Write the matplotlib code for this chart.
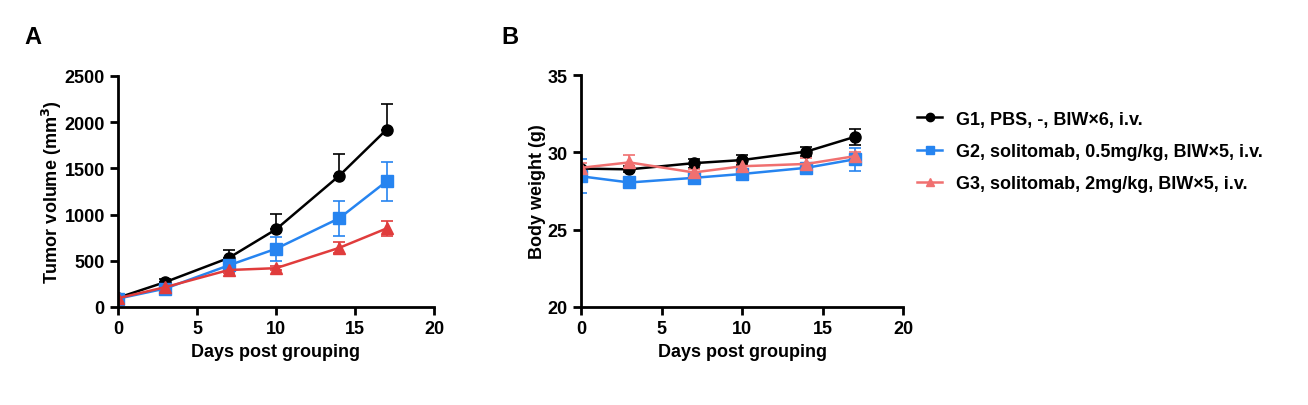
import numpy as np
import matplotlib.pyplot as plt
from matplotlib.lines import Line2D

plt.rcParams['font.family'] = ['Liberation Sans', 'DejaVu Sans']
plt.rcParams['font.weight'] = 'bold'

days = [0, 3, 7, 10, 14, 17]
groups = ["G1, PBS, -, BIW\u00d76, i.v.",
          "G2, solitomab, 0.5mg/kg, BIW\u00d75, i.v.",
          "G3, solitomab, 2mg/kg, BIW\u00d75, i.v."]

# tumor volume (mm3), mean and SEM
tv_g1 = [100, 270, 530, 840, 1420, 1920]
tv_g1_err = [15, 30, 90, 170, 240, 280]
tv_g2 = [90, 200, 450, 630, 960, 1360]
tv_g2_err = [10, 20, 50, 130, 190, 210]
tv_g3 = [95, 215, 400, 420, 640, 850]
tv_g3_err = [10, 20, 30, 20, 60, 80]

# body weight (g)
bw_g1 = [28.95, 28.9, 29.3, 29.5, 30.05, 31.0]
bw_g1_err = [0.1, 0.2, 0.3, 0.3, 0.3, 0.5]
bw_g2 = [28.45, 28.05, 28.35, 28.6, 29.0, 29.55]
bw_g2_err = [1.1, 0.1, 0.2, 0.2, 0.2, 0.75]
bw_g3 = [29.0, 29.35, 28.7, 29.1, 29.25, 29.75]
bw_g3_err = [0.3, 0.5, 0.2, 0.2, 0.4, 0.3]

fig = plt.figure(figsize=(13.08, 4.06), dpi=100)
axA = fig.add_axes([0.0902, 0.2414, 0.2416, 0.569])
axB = fig.add_axes([0.4442, 0.2414, 0.2462, 0.5714])

black = '#000000'
blue = '#2684F0'
redA = '#E03C3C'
redB = '#F07070'
markers = ['o', 's', '^']

def draw(ax, ys, errs, colors, upper_only):
    for y, e, c, m, up in zip(ys, errs, colors, markers, upper_only):
        if up:
            yerr = [np.zeros(len(e)), e]
        else:
            yerr = e
        ax.errorbar(days, y, yerr=yerr, color=c, marker=m, markersize=8,
                    linewidth=1.8, elinewidth=1.2, capsize=4, capthick=1.2)

draw(axA, [tv_g1, tv_g2, tv_g3], [tv_g1_err, tv_g2_err, tv_g3_err],
     [black, blue, redA], [True, False, False])
draw(axB, [bw_g1, bw_g2, bw_g3], [bw_g1_err, bw_g2_err, bw_g3_err],
     [black, blue, redB], [False, False, False])

for ax in (axA, axB):
    for s in ['top', 'right']:
        ax.spines[s].set_visible(False)
    for s in ['left', 'bottom']:
        ax.spines[s].set_linewidth(2)
    ax.tick_params(width=2, length=6, labelsize=13, direction='out')
    ax.set_xlim(0, 20)
    ax.set_xticks([0, 5, 10, 15, 20])
    ax.set_xlabel("Days post grouping", fontsize=13, fontweight='bold')
    for lab in ax.get_xticklabels() + ax.get_yticklabels():
        lab.set_fontweight('bold')

axA.set_ylim(0, 2500)
axA.set_yticks([0, 500, 1000, 1500, 2000, 2500])
axA.set_ylabel("Tumor volume (mm$^\\mathbf{3}$)", fontsize=13, fontweight='bold', labelpad=0)
axB.set_ylim(20, 35)
axB.set_yticks([20, 25, 30, 35])
axB.set_ylabel("Body weight (g)", fontsize=13, fontweight='bold', labelpad=1)

fig.text(33 / 1308, 1 - 38 / 406, "A", fontsize=17, fontweight='bold', va='center', ha='center')
fig.text(510 / 1308, 1 - 38 / 406, "B", fontsize=17, fontweight='bold', va='center', ha='center')

handles = [Line2D([], [], color=c, marker=m, markersize=6, linewidth=1.8)
           for c, m in zip([black, blue, redB], markers)]
fig.legend(handles, groups, loc='upper left', bbox_to_anchor=(0.689, 0.765),
           frameon=False, handlelength=1.35, handletextpad=0.8, labelspacing=0.85,
           prop={'weight': 'bold', 'size': 13})

fig.savefig("out.png", dpi=100)
